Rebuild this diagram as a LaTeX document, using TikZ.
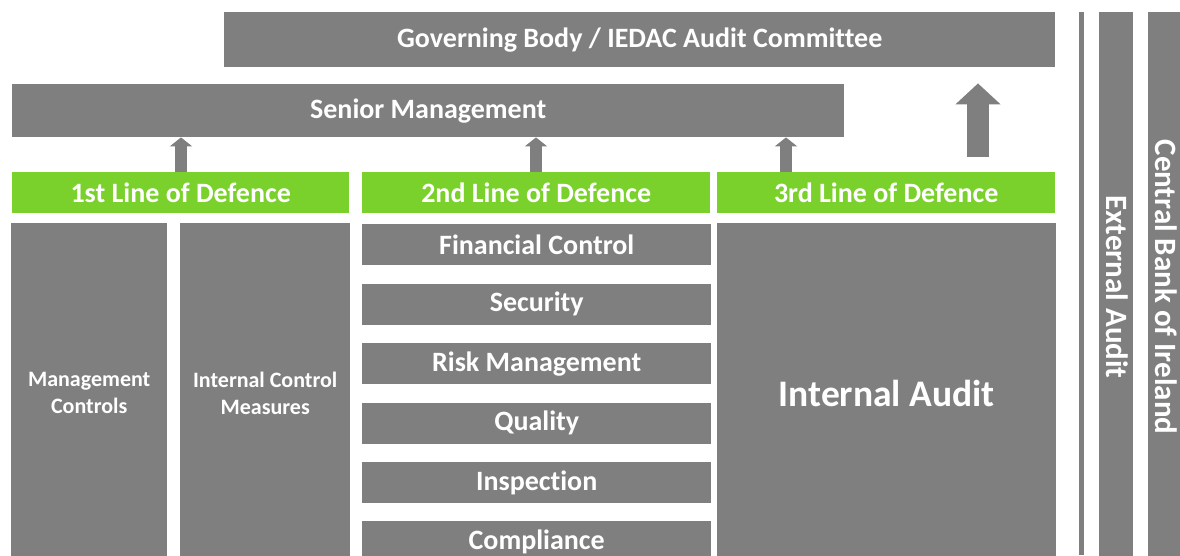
\documentclass[tikz,border=0pt]{standalone}
\usepackage{fontspec}
\setmainfont{Carlito}[Ligatures=NoCommon]
\usetikzlibrary{arrows.meta}
\definecolor{boxgray}{HTML}{7F7F7F}
\definecolor{linegreen}{HTML}{7AD12B}
\tikzset{
  graybox/.style={fill=boxgray, draw=none, text=white, inner sep=0pt, anchor=north west,
    font=\bfseries\fontsize{28}{30}\selectfont, align=center},
  greenbox/.style={graybox, fill=linegreen},
  sidetext/.style={text=white, font=\bfseries\fontsize{31}{34}\selectfont, rotate=-90},
  smallup/.style={draw=boxgray, line width=12pt, -{Triangle[width=22pt,length=9pt]}},
  bigup/.style={draw=boxgray, line width=22pt, -{Triangle[width=44pt,length=21pt]}},
}
\newcommand{\bx}[6]{\node[#1, minimum width=#4pt, minimum height=#5pt] (#2) at #3 {#6};}
\begin{document}
\begin{tikzpicture}[x=1pt,y=-1pt]
\useasboundingbox (0,0) rectangle (1180,555);
% top tiers
\bx{graybox}{gov}{(224,12)}{831}{55}{Governing Body / IEDAC Audit Committee}
\bx{graybox}{sm}{(12,84)}{832}{53}{Senior Management}
% lines of defence
\bx{greenbox}{l1}{(12,172)}{337}{41}{1st Line of Defence}
\bx{greenbox}{l2}{(362,172)}{348}{41}{2nd Line of Defence}
\bx{greenbox}{l3}{(717,172)}{338}{41}{3rd Line of Defence}
% first line
\bx{graybox, font=\bfseries\fontsize{22}{27}\selectfont}{mc}{(11,223)}{156}{340}{Management\\Controls}
\bx{graybox, font=\bfseries\fontsize{22}{27}\selectfont}{icm}{(180,223)}{170}{340}{Internal Control\\Measures}
% second line
\bx{graybox}{fc}{(362,224)}{349}{41}{Financial Control}
\bx{graybox}{sec}{(362,283.5)}{349}{41}{Security}
\bx{graybox}{rm}{(362,343)}{349}{41}{Risk Management}
\bx{graybox}{qu}{(362,402.5)}{349}{41}{Quality}
\bx{graybox}{ins}{(362,462)}{349}{41}{Inspection}
\bx{graybox}{comp}{(362,521)}{349}{41}{Compliance}
% third line
\bx{graybox, font=\bfseries\fontsize{37.5}{40}\selectfont}{ia}{(717,223)}{339}{340}{Internal Audit}
% external bodies
\fill[boxgray] (1079,12) rectangle (1084,555);
\bx{graybox}{ea}{(1099,12)}{34}{560}{}
\bx{graybox}{cb}{(1148,12)}{40}{560}{}
\node[sidetext] at (1117,287) {External Audit};
\node[sidetext] at (1166,287) {Central Bank of Ireland};
% escalation arrows
\draw[smallup] (l1.north -| 181,0) -- (sm.south -| 181,0);
\draw[smallup] (l2.north -| 536,0) -- (sm.south -| 536,0);
\draw[smallup] (l3.north -| 786,0) -- (sm.south -| 786,0);
\draw[bigup, shorten <=15pt, shorten >=16pt] (l3.north -| 978,0) -- (gov.south -| 978,0);
\end{tikzpicture}
\end{document}
